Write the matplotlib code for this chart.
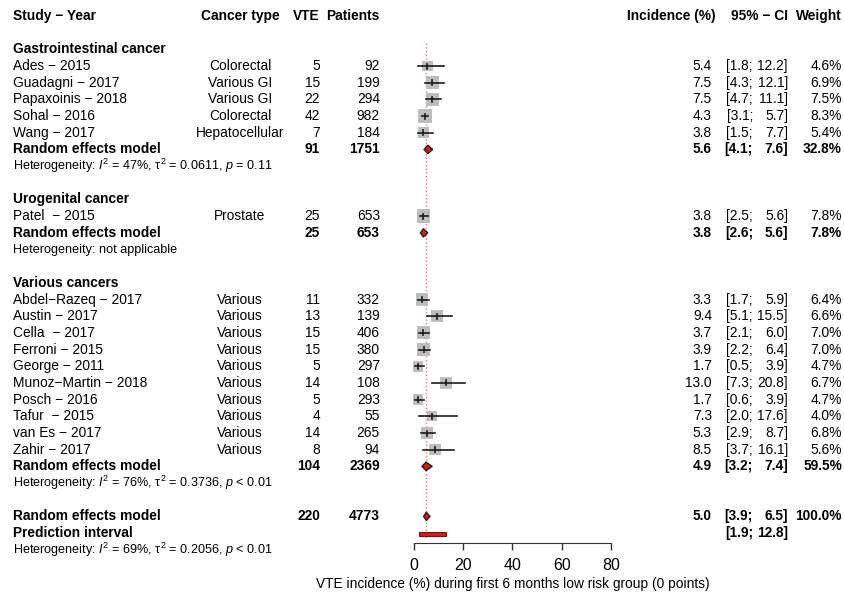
# Forest plot: VTE incidence during first 6 months, low risk group (0 points)
import numpy as np
import matplotlib
matplotlib.use("Agg")
import matplotlib.pyplot as plt
from matplotlib.patches import Rectangle, Polygon

plt.rcParams["font.family"] = ["Liberation Sans", "DejaVu Sans"]
plt.rcParams["mathtext.fontset"] = "custom"
plt.rcParams["mathtext.rm"] = "Liberation Sans"
plt.rcParams["mathtext.it"] = "Liberation Sans:italic"
plt.rcParams["mathtext.bf"] = "Liberation Sans:bold"

# ---- data ----
gi_studies = ["Ades − 2015", "Guadagni − 2017", "Papaxoinis − 2018", "Sohal − 2016", "Wang − 2017"]
gi_types = ["Colorectal", "Various GI", "Various GI", "Colorectal", "Hepatocellular"]
gi_vte = [5, 15, 22, 42, 7]
gi_pat = [92, 199, 294, 982, 184]
gi_est = [5.4, 7.5, 7.5, 4.3, 3.8]
gi_lo = [1.8, 4.3, 4.7, 3.1, 1.5]
gi_hi = [12.2, 12.1, 11.1, 5.7, 7.7]
gi_wt = [4.6, 6.9, 7.5, 8.3, 5.4]
gi_pool = (91, 1751, 5.6, 4.1, 7.6, 32.8)
gi_het = r"Heterogeneity: $I^2$ = 47%, $\mathrm{\tau}^2$ = 0.0611, $p$ = 0.11"

ug_studies = ["Patel  − 2015"]
ug_types = ["Prostate"]
ug_vte = [25]
ug_pat = [653]
ug_est = [3.8]
ug_lo = [2.5]
ug_hi = [5.6]
ug_wt = [7.8]
ug_pool = (25, 653, 3.8, 2.6, 5.6, 7.8)
ug_het = "Heterogeneity: not applicable"

va_studies = ["Abdel−Razeq − 2017", "Austin − 2017", "Cella  − 2017", "Ferroni − 2015",
              "George − 2011", "Munoz−Martin − 2018", "Posch − 2016", "Tafur  − 2015",
              "van Es − 2017", "Zahir − 2017"]
va_types = ["Various"] * 10
va_vte = [11, 13, 15, 15, 5, 14, 5, 4, 14, 8]
va_pat = [332, 139, 406, 380, 297, 108, 293, 55, 265, 94]
va_est = [3.3, 9.4, 3.7, 3.9, 1.7, 13.0, 1.7, 7.3, 5.3, 8.5]
va_lo = [1.7, 5.1, 2.1, 2.2, 0.5, 7.3, 0.6, 2.0, 2.9, 3.7]
va_hi = [5.9, 15.5, 6.0, 6.4, 3.9, 20.8, 3.9, 17.6, 8.7, 16.1]
va_wt = [6.4, 6.6, 7.0, 7.0, 4.7, 6.7, 4.7, 4.0, 6.8, 5.6]
va_pool = (104, 2369, 4.9, 3.2, 7.4, 59.5)
va_het = r"Heterogeneity: $I^2$ = 76%, $\mathrm{\tau}^2$ = 0.3736, $p$ < 0.01"

all_pool = (220, 4773, 5.0, 3.9, 6.5, 100.0)
pred_lo, pred_hi = 1.9, 12.8
all_het = r"Heterogeneity: $I^2$ = 69%, $\mathrm{\tau}^2$ = 0.2056, $p$ < 0.01"

group_names = ["Gastrointestinal cancer", "Urogenital cancer", "Various cancers"]
groups = [
    (gi_studies, gi_types, gi_vte, gi_pat, gi_est, gi_lo, gi_hi, gi_wt, gi_pool, gi_het),
    (ug_studies, ug_types, ug_vte, ug_pat, ug_est, ug_lo, ug_hi, ug_wt, ug_pool, ug_het),
    (va_studies, va_types, va_vte, va_pat, va_est, va_lo, va_hi, va_wt, va_pool, va_het),
]
xticks = [0, 20, 40, 60, 80]
xlabel = "VTE incidence (%) during first 6 months low risk group (0 points)"

# ---- layout (pixels) ----
W, H = 845, 593
ROW_PX = 16.68
Y0_PX = 16
X0_PX, X80_PX = 414, 611
PX_PER_UNIT = (X80_PX - X0_PX) / 80.0
FS = 9.9
FS_HET = 9.1
FS_TICK = 11.5


def row_of(py):
    return (py - Y0_PX) / ROW_PX


fig = plt.figure(figsize=(W / 100, H / 100), dpi=100)
tax = fig.add_axes([0, 0, 1, 1])
tax.set_xlim(0, W)
tax.set_ylim(row_of(H), row_of(0))
tax.axis("off")

fax = fig.add_axes([X0_PX / W, 0, (X80_PX - X0_PX) / W, 1])
fax.set_xlim(0, 80)
fax.set_ylim(row_of(H), row_of(0))
fax.patch.set_visible(False)
for s in ["top", "left", "right"]:
    fax.spines[s].set_visible(False)
axis_row = row_of(543)
fax.spines["bottom"].set_position(("data", axis_row))
fax.spines["bottom"].set_bounds(0, 80)
fax.spines["bottom"].set_color("#333333")
fax.set_yticks([])
fax.set_xticks(xticks)
fax.tick_params(axis="x", length=5.2, width=1, color="#333333", labelsize=FS_TICK, pad=5.5)

COLS = dict(study=13, ctype=240, vte=320, pat=380, inc=712, cilo=753, cihi=788, wt=842)


def put(x, y, s, ha="left", bold=False, size=FS):
    tax.text(x, y, s, ha=ha, va="center", fontsize=size,
             fontweight="bold" if bold else "normal", color="black")


def put_values(y, vte, pat, est, lo, hi, wt, bold=False):
    if vte is not None:
        put(COLS["vte"], y, f"{vte}", "right", bold)
        put(COLS["pat"], y, f"{pat}", "right", bold)
    put(COLS["inc"], y, f"{est:.1f}", "right", bold)
    put(COLS["cilo"], y, f"[{lo:.1f};", "right", bold)
    put(COLS["cihi"], y, f"{hi:.1f}]", "right", bold)
    put(COLS["wt"], y, f"{wt:.1f}%", "right", bold)


def draw_study(y, est, lo, hi, wt):
    side = 4.86 * np.sqrt(wt)
    w = side / PX_PER_UNIT
    h = side / ROW_PX
    fax.add_patch(Rectangle((est - w / 2, y - h / 2), w, h, facecolor="#bdbdbd",
                            edgecolor="none", zorder=2, clip_on=False))
    fax.plot([lo, hi], [y, y], color="#1a1a1a", lw=1.2, zorder=3, clip_on=False)
    th = 2.5 / ROW_PX
    fax.plot([est, est], [y - th, y + th], color="#1a1a1a", lw=1.2, zorder=3, clip_on=False)


def draw_diamond(y, est, lo, hi):
    h = 4.2 / ROW_PX
    fax.add_patch(Polygon([(lo, y), (est, y - h), (hi, y), (est, y + h)], closed=True,
                          facecolor="#d7191c", edgecolor="#222222", lw=1, zorder=4,
                          clip_on=False))


# header
put(COLS["study"], 0, "Study − Year", bold=True)
put(COLS["ctype"], 0, "Cancer type", "center", True)
put(COLS["vte"], 0, "VTE", "right", True)
put(COLS["pat"], 0, "Patients", "right", True)
put(716, 0, "Incidence (%)", "right", True)
put(COLS["cihi"], 0, "95% − CI", "right", True)
put(COLS["wt"], 0, "Weight", "right", True)

r = 2
for name, g in zip(group_names, groups):
    studies, types, vte, pat, est, lo, hi, wt, pool, het = g
    put(COLS["study"], r, name, bold=True)
    r += 1
    for i in range(len(studies)):
        put(COLS["study"], r, studies[i])
        put(COLS["ctype"], r, types[i], "center")
        put_values(r, vte[i], pat[i], est[i], lo[i], hi[i], wt[i])
        draw_study(r, est[i], lo[i], hi[i], wt[i])
        r += 1
    put(COLS["study"], r, "Random effects model", bold=True)
    put_values(r, *pool, bold=True)
    draw_diamond(r, pool[2], pool[3], pool[4])
    r += 1
    put(COLS["study"], r, het, size=FS_HET)
    r += 2

put(COLS["study"], r, "Random effects model", bold=True)
put_values(r, *all_pool, bold=True)
draw_diamond(r, all_pool[2], all_pool[3], all_pool[4])
r += 1
put(COLS["study"], r, "Prediction interval", bold=True)
put(COLS["cilo"], r, f"[{pred_lo:.1f};", "right", True)
put(COLS["cihi"], r, f"{pred_hi:.1f}]", "right", True)
ph = 3.6 / ROW_PX
fax.add_patch(Rectangle((pred_lo, row_of(534) - ph / 2), pred_hi - pred_lo, ph,
                        facecolor="#d7191c", edgecolor="#7a1010", lw=0.8, zorder=4,
                        clip_on=False))
r += 1
put(COLS["study"], r, all_het, size=FS_HET)

# reference line at pooled estimate
fax.plot([all_pool[2], all_pool[2]], [row_of(43), row_of(538)], linestyle=":",
         color="#e87878", lw=1, zorder=1)

tax.text((X0_PX + X80_PX) / 2, row_of(584), xlabel, ha="center", va="center", fontsize=FS)

fig.savefig("out.png", dpi=100)
